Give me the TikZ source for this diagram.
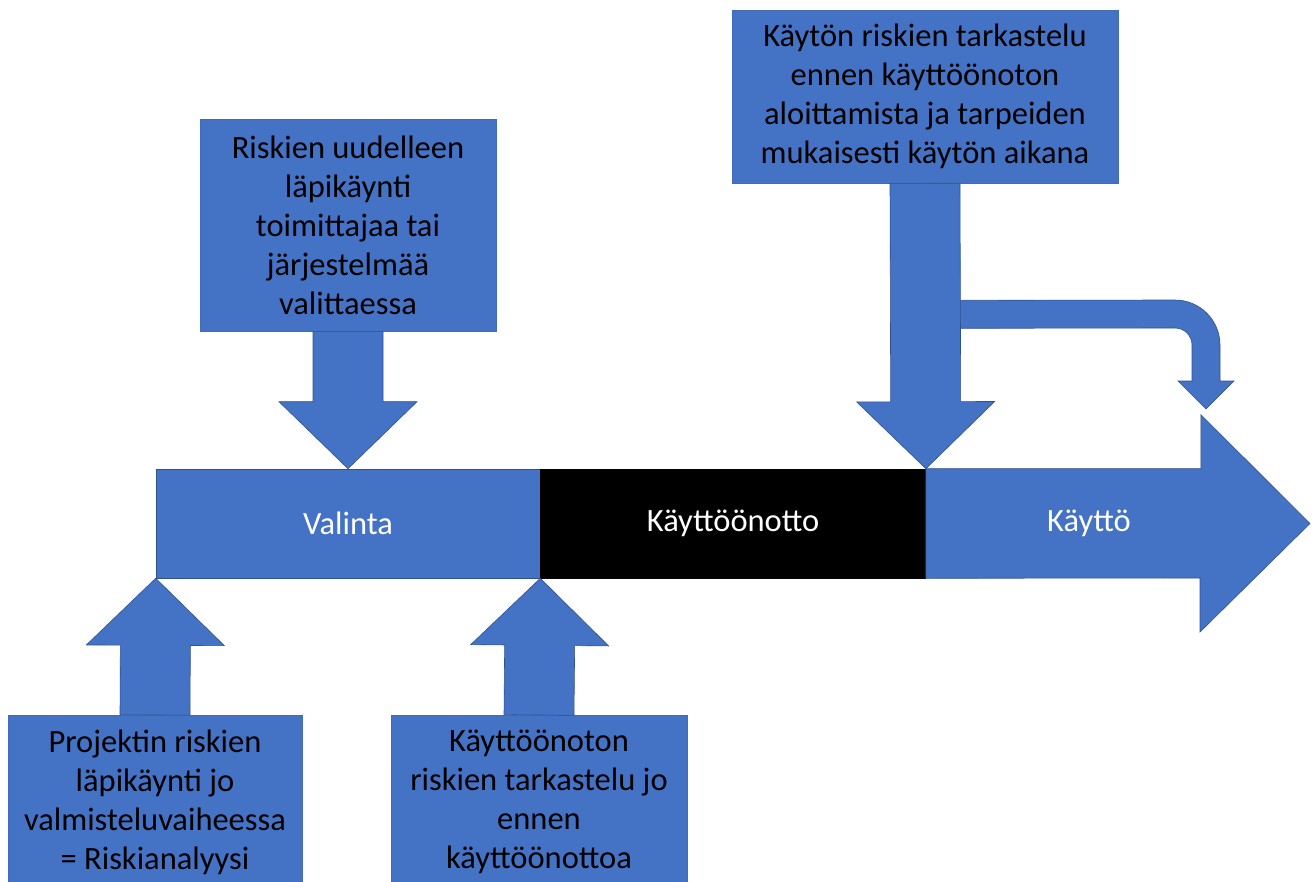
\documentclass[tikz,border=0pt]{standalone}
\usepackage{fontspec}
\setmainfont{Carlito}
\usetikzlibrary{positioning, calc}
\definecolor{officeblue}{HTML}{4472C4}
\definecolor{edgeblue}{HTML}{2F528F}

\tikzset{
    txt/.style={font=\fontsize{32.5}{39}\selectfont},
    riskbox/.style={txt, fill=officeblue, draw=officeblue!80!edgeblue, line width=0.6pt,
        text=black, align=center, inner sep=0pt},
    phase/.style={txt, text=white, fill=officeblue, draw=edgeblue, line width=0.6pt,
        minimum height=109pt, inner sep=0pt},
    arrowfill/.style={fill=officeblue, draw=edgeblue, line width=0.6pt, line join=miter}
}

\begin{document}
\begin{tikzpicture}[x=1pt, y=-1pt]
    \def\shaft{35pt}
    \def\head{69pt}
    \def\headlen{67pt}

    \useasboundingbox (0,0) rectangle (1312,881);
    \clip (0,0) rectangle (1312,881);

    % --- Phases along the time line ---
    \node[phase, minimum width=384pt] (valinta) at (348,523.5) {Valinta};
    \node[phase, fill=black, draw=black, minimum width=385pt, right=0pt of valinta] (kayttoonotto) {Käyttöönotto};
    \filldraw[arrowfill] (kayttoonotto.north east) -- ++(275,0) -- ++(0,-54)
        -- (1310,523.5) -- (1200,632) -- (1200,578) -- (kayttoonotto.south east) -- cycle;
    \node[txt, text=white] (kaytto) at (1089,523.5) {Käyttö};

    % --- Risk review boxes ---
    \node[riskbox, minimum width=296pt, minimum height=212pt] (r1) at (348,225)
        {Riskien uudelleen\\läpikäynti\\toimittajaa tai\\järjestelmää\\valittaessa};
    \node[riskbox, minimum width=386pt, minimum height=173pt] (r2) at (925,96.5)
        {Käytön riskien tarkastelu\\ennen käyttöönoton\\aloittamista ja tarpeiden\\mukaisesti käytön aikana};
    \node[riskbox, minimum width=294pt, minimum height=174pt, anchor=north] (b1) at (155,715)
        {Projektin riskien\\läpikäynti jo\\valmisteluvaiheessa\\= Riskianalyysi};
    \node[riskbox, minimum width=296pt, minimum height=174pt, anchor=north] (b2) at (539,715)
        {Käyttöönoton\\riskien tarkastelu jo\\ennen\\käyttöönottoa};

    % --- Branch of the top right arrow, bending down ---
    \coordinate (bendtip) at (1206,409);
    \filldraw[arrowfill] ($(r2.south)+(34,117)$) -- (1175,300)
        arc[start angle=90, end angle=0, radius=45pt] -- (1220,381) -- (1234,381)
        -- (bendtip) -- (1178,381) -- (1192,381) -- (1192,345)
        arc[start angle=0, end angle=90, radius=17pt] -- ($(r2.south)+(34,145)$) -- cycle;

    % --- Block arrows from the boxes to the phase borders ---
    \foreach \from/\to in {r1.south/valinta.north, r2.south/kayttoonotto.north east,
                           b1.north/valinta.south west, b2.north/valinta.south east} {
        \coordinate (hb) at ($(\to)!\headlen!(\from)$);
        \filldraw[arrowfill] ($(\from)!\shaft!90:(\to)$) -- ($(hb)!\shaft!90:(\to)$)
            -- ($(hb)!\head!90:(\to)$) -- (\to) -- ($(hb)!\head!-90:(\to)$)
            -- ($(hb)!\shaft!-90:(\to)$) -- ($(\from)!\shaft!-90:(\to)$) -- cycle;
    }
\end{tikzpicture}
\end{document}
